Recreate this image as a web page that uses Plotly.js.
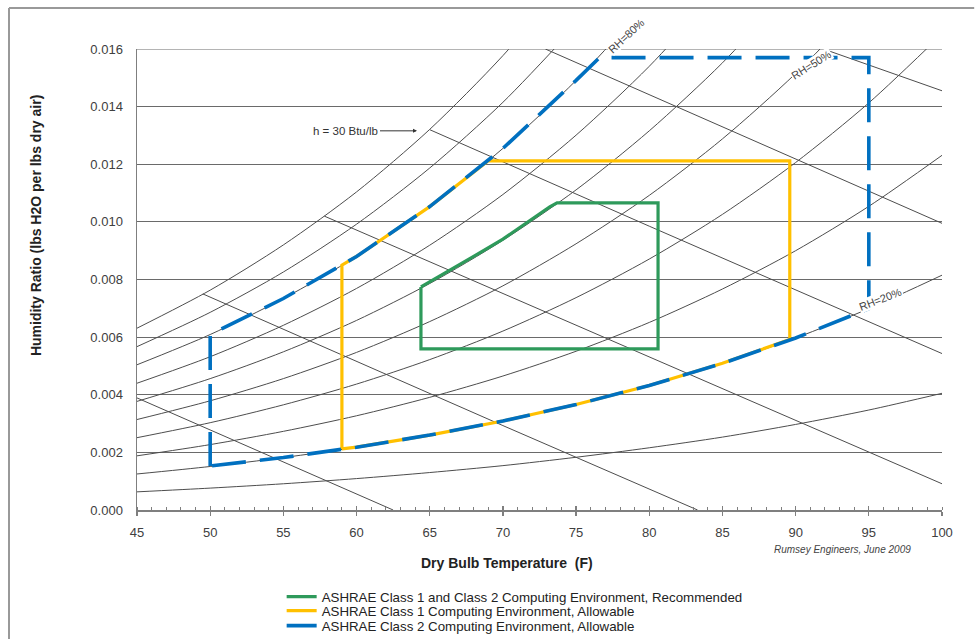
<!DOCTYPE html>
<html>
<head>
<meta charset="utf-8">
<script src="https://cdn.plot.ly/plotly-3.0.1.min.js"></script>
<style>html,body{margin:0;padding:0;background:#fff;overflow:hidden;}#chart{width:979px;height:641px;overflow:hidden;}</style>
</head>
<body>
<div id="chart"></div>
<script>
// ---- Data ----
// Dry bulb temperatures (F) for relative-humidity curves
const rhTemps = [45, 50, 55, 60, 65, 70, 75, 80, 85, 90, 95, 100];
// Humidity ratio (lb/lb) along each RH curve
const rh100 = [0.00631, 0.00763, 0.00920, 0.01104, 0.01321, 0.01577, 0.01875];
const rh90  = [0.00567, 0.00686, 0.00826, 0.00992, 0.01187, 0.01415, 0.01682];
const rh80  = [0.00504, 0.00609, 0.00734, 0.00880, 0.01053, 0.01255, 0.01491, 0.01766];
const rh70  = [0.00440, 0.00532, 0.00641, 0.00769, 0.00919, 0.01095, 0.01301, 0.01540, 0.01819];
const rh60  = [0.00377, 0.00456, 0.00549, 0.00658, 0.00786, 0.00936, 0.01111, 0.01316, 0.01552, 0.01827];
const rh50  = [0.00314, 0.00379, 0.00456, 0.00547, 0.00654, 0.00778, 0.00924, 0.01092, 0.01288, 0.01515, 0.01777];
const rh40  = [0.00251, 0.00303, 0.00365, 0.00437, 0.00522, 0.00621, 0.00737, 0.00871, 0.01026, 0.01206, 0.01413, 0.01652];
const rh30  = [0.00188, 0.00227, 0.00273, 0.00327, 0.00391, 0.00465, 0.00551, 0.00651, 0.00767, 0.00900, 0.01054, 0.01231];
const rh20  = [0.00125, 0.00151, 0.00182, 0.00218, 0.00260, 0.00309, 0.00366, 0.00432, 0.00509, 0.00597, 0.00699, 0.00815];
const rh10  = [0.00063, 0.00076, 0.00091, 0.00109, 0.00130, 0.00154, 0.00183, 0.00216, 0.00253, 0.00297, 0.00347, 0.00405];

// Constant-enthalpy lines (temperature, humidity ratio)
const h15T = [45, 55, 62.5];        const h15W = [0.00389, 0.00166, 0];
const h20T = [49.5, 60, 70, 83.3];  const h20W = [0.0075, 0.00515, 0.00293, 0];
const h25T = [57.8, 70, 85, 100];   const h25W = [0.0102, 0.00751, 0.00419, 0.00091];
const h30T = [65, 80, 100];         const h30W = [0.0132, 0.00985, 0.00543];
const h35T = [72.9, 85, 100];       const h35W = [0.0160, 0.01329, 0.00995];
const h40T = [91.9, 100];           const h40W = [0.0160, 0.01455];

// ASHRAE envelopes
const class2T = [50, 50, 55, 60, 65, 70, 75, 76.6, 95, 95, 90, 85, 80, 75, 70, 65, 60, 55, 50];
const class2W = [0.00153, 0.00609, 0.00734, 0.00880, 0.01053, 0.01255, 0.01491, 0.0157, 0.0157, 0.00699, 0.00597, 0.00509, 0.00432, 0.00366, 0.00309, 0.00260, 0.00218, 0.00182, 0.00153];
const class1T = [59, 59, 60, 65, 69, 89.6, 89.6, 85, 80, 75, 70, 65, 60, 59];
const class1W = [0.00212, 0.00850, 0.00880, 0.01053, 0.01212, 0.01212, 0.00592, 0.00509, 0.00432, 0.00366, 0.00309, 0.00260, 0.00218, 0.00212];
const recT = [64.4, 66, 68, 70, 72, 73.2, 73.7, 80.6, 80.6, 64.4, 64.4];
const recW = [0.00774, 0.0082, 0.0088, 0.0094, 0.0101, 0.01052, 0.01066, 0.01066, 0.00559, 0.00559, 0.00774];

const seriesNames = [
  'ASHRAE Class 1 and Class 2 Computing Environment, Recommended',
  'ASHRAE Class 1 Computing Environment, Allowable',
  'ASHRAE Class 2 Computing Environment, Allowable'
];
const yTickVals = [0, 0.002, 0.004, 0.006, 0.008, 0.010, 0.012, 0.014, 0.016];
const xTickVals = [45, 50, 55, 60, 65, 70, 75, 80, 85, 90, 95, 100];

// ---- Build traces ----
const psyColor = '#4d4d4d';
const traces = [];
[rh10, rh20, rh30, rh40, rh50, rh60, rh70, rh80, rh90, rh100].forEach(function (w) {
  traces.push({x: rhTemps.slice(0, w.length), y: w, type: 'scatter', mode: 'lines',
    line: {color: psyColor, width: 1, shape: 'spline', smoothing: 0.8},
    hoverinfo: 'skip', showlegend: false});
});
[[h15T, h15W], [h20T, h20W], [h25T, h25W], [h30T, h30W], [h35T, h35W], [h40T, h40W]].forEach(function (p) {
  traces.push({x: p[0], y: p[1], type: 'scatter', mode: 'lines',
    line: {color: psyColor, width: 1}, hoverinfo: 'skip', showlegend: false});
});
traces.push({x: class1T, y: class1W, type: 'scatter', mode: 'lines', name: seriesNames[1],
  legend: 'legend2', line: {color: '#FFC000', width: 3.2}});
traces.push({x: class2T, y: class2W, type: 'scatter', mode: 'lines', name: seriesNames[2],
  legend: 'legend3', line: {color: '#0070C0', width: 3.6, dash: '34px,14px'}});
traces.push({x: recT, y: recW, type: 'scatter', mode: 'lines', name: seriesNames[0],
  legend: 'legend', line: {color: '#2E9A5B', width: 3.2}});
// overlay axis used only for inward major ticks
traces.push({x: [], y: [], xaxis: 'x2', yaxis: 'y', type: 'scatter', showlegend: false, hoverinfo: 'skip'});

const font = 'Liberation Sans, Arial, sans-serif';
function legendAt(yPaper) {
  return {x: 0.1797, y: yPaper, xanchor: 'left', yanchor: 'middle', bgcolor: 'rgba(0,0,0,0)',
    borderwidth: 0, font: {family: font, size: 13.3, color: '#222'}};
}
function note(x, y, text, size, extra) {
  const a = {xref: 'paper', yref: 'paper', x: x, y: y, text: text, showarrow: false,
    xanchor: 'center', yanchor: 'middle', font: {family: font, size: size, color: '#444'}};
  return Object.assign(a, extra || {});
}
const layout = {
  width: 979, height: 641,
  margin: {l: 137, r: 37, t: 49, b: 131, autoexpand: false},
  paper_bgcolor: '#ffffff', plot_bgcolor: '#ffffff',
  font: {family: font, size: 13, color: '#404040'},
  showlegend: true,
  legend: legendAt(-0.1887),
  legend2: legendAt(-0.2191),
  legend3: legendAt(-0.2516),
  xaxis: {range: [45, 100], tickvals: xTickVals, ticktext: xTickVals.map(String),
    showgrid: false, zeroline: false, showline: true, linecolor: '#7f7f7f', linewidth: 1.5,
    ticks: 'outside', ticklen: 4, tickwidth: 1.3, tickcolor: '#7f7f7f', ticklabelstandoff: 6,
    minor: {dtick: 1, tick0: 45, ticks: 'inside', ticklen: 3, tickcolor: '#7f7f7f', tickwidth: 1, showgrid: false},
    tickfont: {size: 13, color: '#404040'}, fixedrange: true},
  xaxis2: {range: [45, 100], overlaying: 'x', anchor: 'y', side: 'bottom', tickvals: xTickVals,
    showticklabels: false, showgrid: false, zeroline: false, showline: false,
    ticks: 'inside', ticklen: 4, tickwidth: 1.3, tickcolor: '#7f7f7f'},
  yaxis: {range: [0, 0.016], tickvals: yTickVals, tickformat: '.3f',
    showgrid: true, gridcolor: '#6a6a6a', gridwidth: 1.2, zeroline: false,
    showline: true, linecolor: '#7f7f7f', linewidth: 1.5, ticks: '', ticklabelstandoff: 10,
    tickfont: {size: 13, color: '#404040'}, fixedrange: true},
  shapes: [
    {type: 'line', xref: 'paper', yref: 'y', x0: 0, x1: 1, y0: 0.016, y1: 0.016,
      line: {color: '#6a6a6a', width: 1.2}, layer: 'below'},
    // outer frame (top and left edges only, as in the reference)
    {type: 'line', xref: 'paper', yref: 'paper', x0: -0.159, x1: 1.04, y0: 1.0889, y1: 1.0889,
      line: {color: '#999999', width: 2}, layer: 'below'},
    {type: 'line', xref: 'paper', yref: 'paper', x0: -0.159, x1: -0.159, y0: 1.0889, y1: -0.28,
      line: {color: '#999999', width: 2}, layer: 'below'}
  ],
  annotations: [
    note(-0.1255, 0.618, '<b>Humidity Ratio (lbs H2O per lbs dry air)</b>', 14, {textangle: -90, font: {family: font, size: 14, color: '#222'}}),
    note(0.4596, -0.115, '<b>Dry Bulb Temperature\u00a0 (F)</b>', 14, {font: {family: font, size: 14, color: '#222'}}),
    note(0.8758, -0.0846, '<i>Rumsey Engineers, June 2009</i>', 10),
    note(0.6075, 1.0282, 'RH=80%', 11, {textangle: -43, bgcolor: '#ffffff', borderpad: 0}),
    note(0.8373, 0.9653, 'RH=50%', 11, {textangle: -32, bgcolor: '#ffffff', borderpad: 0}),
    note(0.9242, 0.4577, 'RH=20%', 11, {textangle: -21, bgcolor: '#ffffff', borderpad: 0}),
    {xref: 'x', yref: 'y', x: 64.13, y: 0.01316, text: 'h = 30 Btu/lb', showarrow: true,
      ax: -37, ay: 0, xanchor: 'right', yanchor: 'middle', arrowhead: 2, arrowsize: 0.8, arrowwidth: 1, arrowcolor: '#333',
      font: {family: font, size: 11.5, color: '#333'}}
  ]
};

Plotly.newPlot('chart', traces, layout, {displayModeBar: false, staticPlot: true});
</script>
</body>
</html>
